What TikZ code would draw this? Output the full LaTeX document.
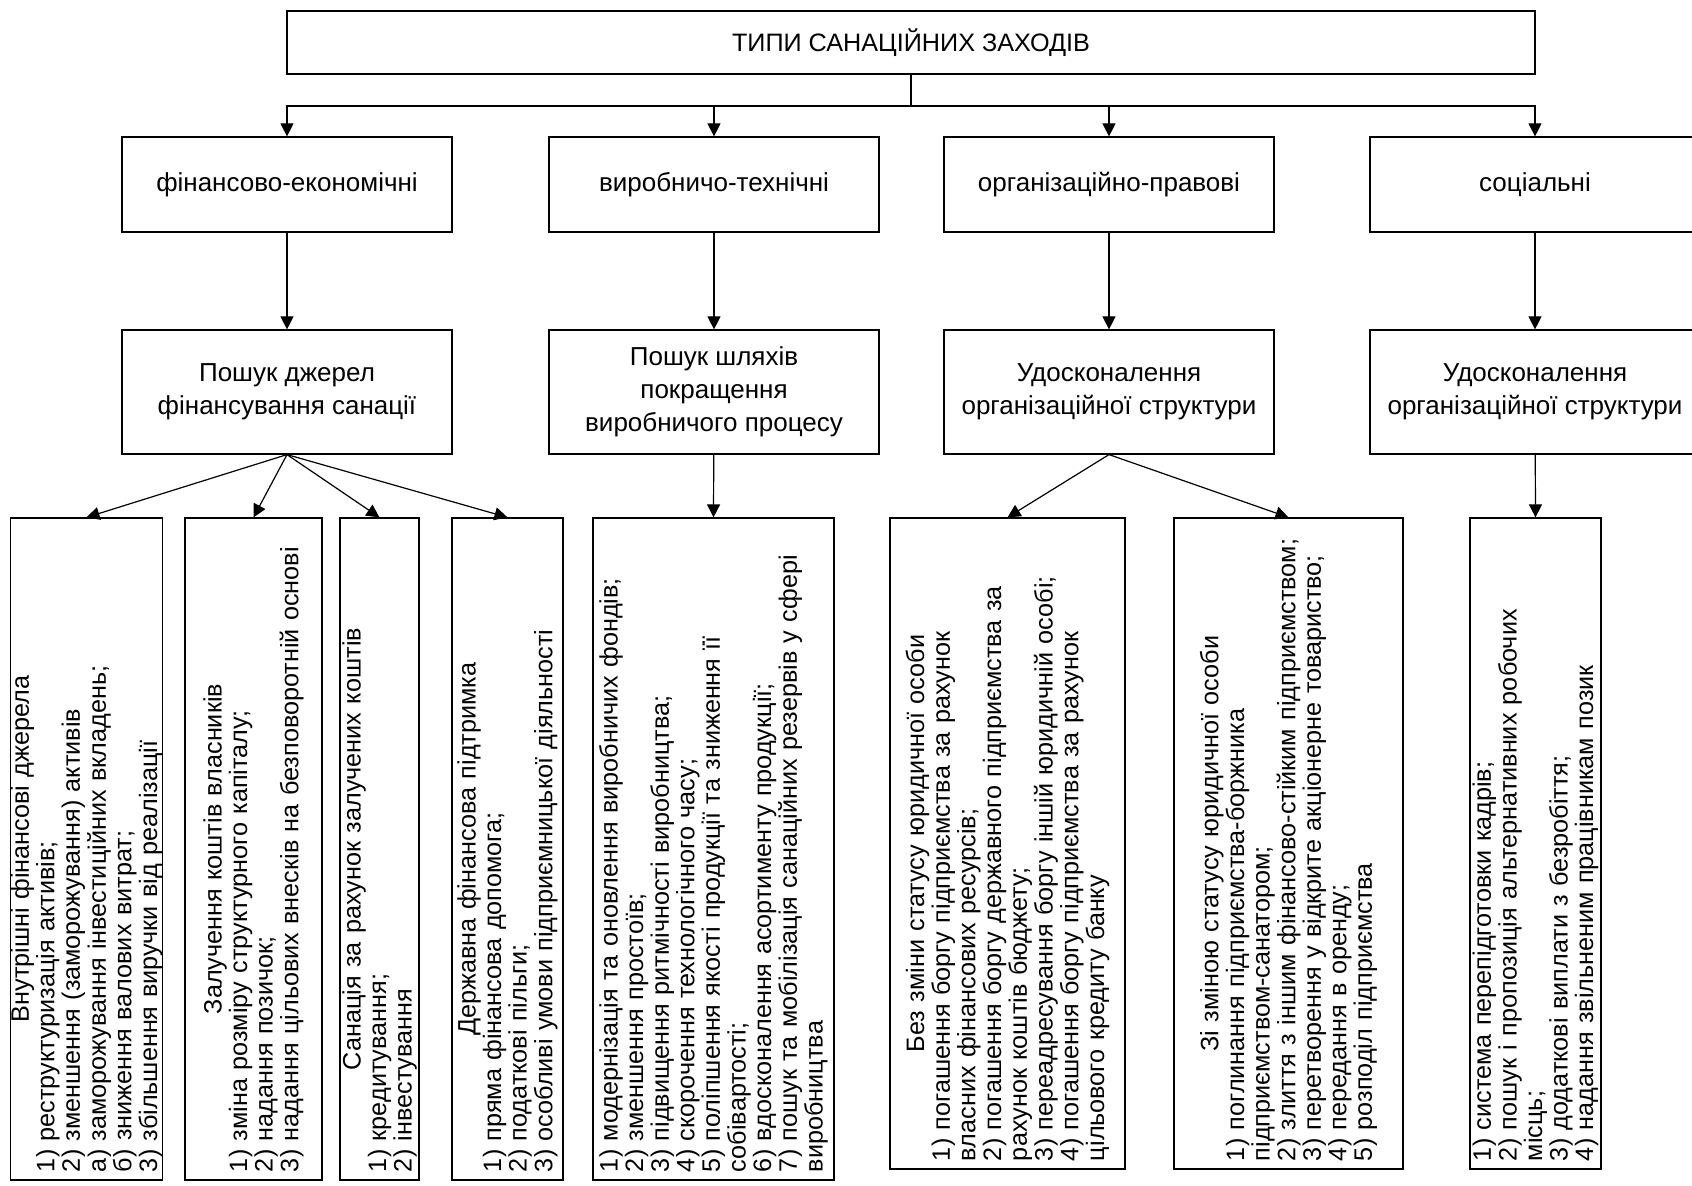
\documentclass[tikz,border=0pt]{standalone}
\usepackage{fontspec}
\setmainfont{Liberation Sans}
\usetikzlibrary{positioning, arrows.meta}

\newcommand{\boxhead}[1]{\makebox[\linewidth][c]{#1}\\}

\begin{document}
\begin{tikzpicture}[x=0.5pt, y=-0.5pt, >={Triangle[length=6.5pt,width=6.5pt]}, line width=0.6pt]
    \tikzstyle{kind}=[draw, minimum width=165pt, inner sep=0, align=center, font=\fontsize{13}{16.5}\selectfont]
    \tikzstyle{list}=[draw, rotate=90, inner xsep=4pt, inner ysep=0, align=left, font=\fontsize{12.6}{11.5}\selectfont]
    \tikzstyle{long}=[list, minimum width=331pt, text width=323pt]
    \tikzstyle{short}=[list, minimum width=325.5pt, text width=317.5pt]

    \useasboundingbox (0,0) rectangle (1692,1186);

    \node[kind, minimum width=624pt, minimum height=31.5pt, font=\fontsize{12.6}{15}\selectfont] (top) at (911,42.5) {ТИПИ САНАЦІЙНИХ ЗАХОДІВ};
    \coordinate (bus) at (911,106);

    \node[kind, minimum height=47.5pt] (fin) at (287,184.5) {фінансово-економічні};
    \node[kind, minimum height=47.5pt] (tech) at (714,184.5) {виробничо-технічні};
    \node[kind, minimum height=47.5pt] (org) at (1109,184.5) {організаційно-правові};
    \node[kind, minimum height=47.5pt] (soc) at (1535,184.5) {соціальні};

    \node[kind, minimum height=62pt] (fin way) at (287,392) {Пошук джерел\\фінансування санації};
    \node[kind, minimum height=62pt] (tech way) at (714,392) {Пошук шляхів\\покращення\\виробничого процесу};
    \node[kind, minimum height=62pt] (org way) at (1109,392) {Удосконалення\\організаційної структури};
    \node[kind, minimum height=62pt] (soc way) at (1535,392) {Удосконалення\\організаційної структури};

    \node[long, minimum height=75.5pt] (inner) at (86.5,849) {\boxhead{Внутрішні фінансові джерела}1) реструктуризація активів;\\2) зменшення (заморожування) активів\\а) заморожування інвестиційних вкладень;\\б) зниження валових витрат;\\3) збільшення виручки від реалізації};
    \node[long, minimum height=68.5pt] (owners) at (253.5,849) {\boxhead{Залучення коштів власників}1) зміна розміру структурного капіталу;\\2) надання позичок;\\3) надання цільових внесків на безповоротній основі};
    \node[long, minimum height=39.5pt] (loans) at (379.5,849) {\boxhead{Санація за рахунок залучених коштів}1) кредитування;\\2) інвестування};
    \node[long, minimum height=55.5pt] (state) at (507.5,849) {\boxhead{Державна фінансова підтримка}1) пряма фінансова допомога;\\2) податкові пільги;\\3) особливі умови підприємницької діяльності};
    \node[long, minimum height=120.5pt] (prod) at (713.5,849) {1) модернізація та оновлення виробничих фондів;\\2) зменшення простоїв;\\3) підвищення ритмічності виробництва;\\4) скорочення технологічного часу;\\5) поліпшення якості продукції та зниження її\\собівартості;\\6) вдосконалення асортименту продукції;\\7) пошук та мобілізація санаційних резервів у сфері\\виробництва};
    \node[short, minimum height=117.5pt] (same) at (1007.5,843.5) {\boxhead{Без зміни статусу юридичної особи}1) погашення боргу підприємства за рахунок\\власних фінансових ресурсів;\\2) погашення боргу державного підприємства за\\рахунок коштів бюджету;\\3) переадресування боргу іншій юридичній особі;\\4) погашення боргу підприємства за рахунок\\цільового кредиту банку};
    \node[short, minimum height=114.5pt] (change) at (1288.5,843.5) {\boxhead{Зі зміною статусу юридичної особи}1) поглинання підприємства-боржника\\підприємством-санатором;\\2) злиття з іншим фінансово-стійким підприємством;\\3) перетворення у відкрите акціонерне товариство;\\4) передання в оренду;\\5) розподіл підприємства};
    \node[short, minimum height=65.5pt] (staff) at (1535.5,843.5) {1) система перепідготовки кадрів;\\2) пошук і пропозиція альтернативних робочих\\місць;\\3) додаткові виплати з безробіття;\\4) надання звільненим працівникам позик};

    \draw (top.south) -- (bus);
    \draw[->] (bus) -| (fin.north);
    \draw[->] (bus) -| (tech.north);
    \draw[->] (bus) -| (org.north);
    \draw[->] (bus) -| (soc.north);

    \path[->] (fin) edge (fin way);
    \path[->] (tech) edge (tech way);
    \path[->] (org) edge (org way);
    \path[->] (soc) edge (soc way);

    \path[->] (fin way.south) edge (inner.east);
    \path[->] (fin way.south) edge (owners.east);
    \path[->] (fin way.south) edge (loans.east);
    \path[->] (fin way.south) edge (state.east);
    \path[->] (tech way) edge (prod.east);
    \path[->] (org way.south) edge (same.east);
    \path[->] (org way.south) edge (change.east);
    \path[->] (soc way) edge (staff.east);
\end{tikzpicture}
\end{document}
